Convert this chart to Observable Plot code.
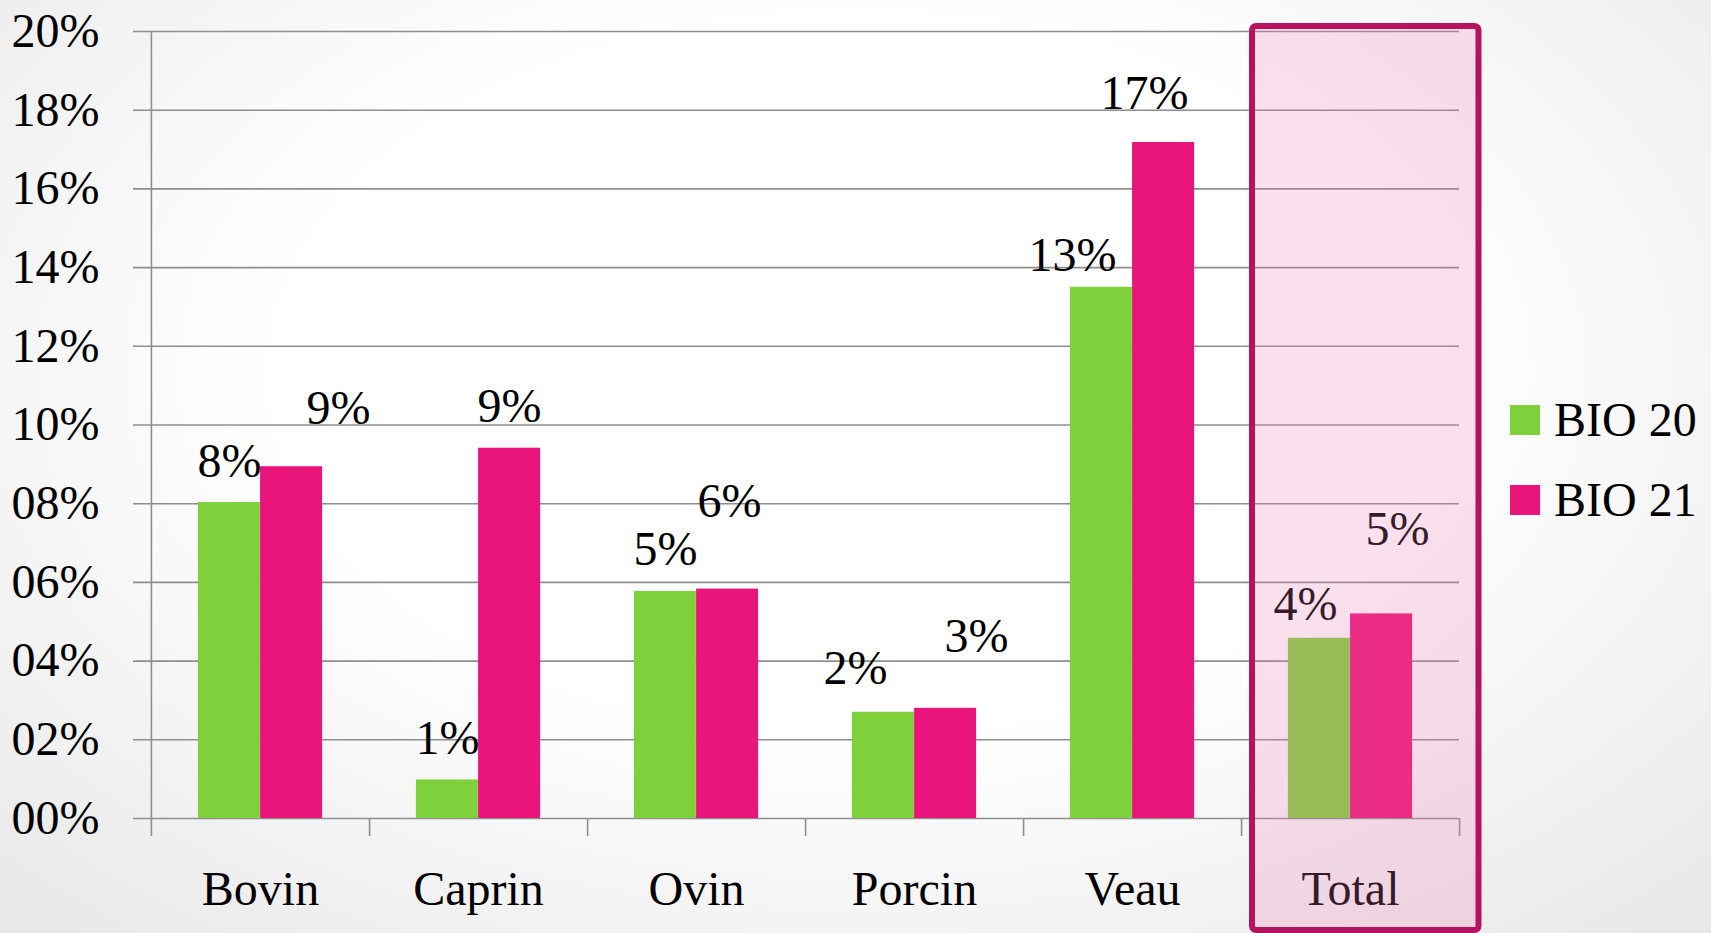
<!DOCTYPE html>
<html>
<head>
<meta charset="utf-8">
<script src="https://cdn.jsdelivr.net/npm/d3@7"></script>
<script src="https://cdn.jsdelivr.net/npm/@observablehq/plot@0.6"></script>
<style>
  html, body { margin: 0; padding: 0; width: 1711px; height: 933px; overflow: hidden; }
  body {
    background: radial-gradient(ellipse 75% 85% at 50% 40%, #ffffff 45%, #e6e6e6 100%);
    font-family: "Liberation Serif", "Times New Roman", Times, "DejaVu Serif", serif;
    position: relative;
  }
  svg text { font-family: "Liberation Serif", "Times New Roman", Times, "DejaVu Serif", serif !important; }
  #chart { position: absolute; left: 0; top: 0; }
  .legend-item { position: absolute; display: flex; align-items: center; font-size: 48px; line-height: 48px; color: #000; }
  .swatch { width: 30px; height: 30px; margin-right: 14px; }
</style>
</head>
<body>
<div id="chart"></div>
<div id="legend"></div>
<script>
// ---- data ----
const categories = ["Bovin", "Caprin", "Ovin", "Porcin", "Veau", "Total"];
const seriesNames = ["BIO 20", "BIO 21"];
const bio20 = [8.03, 0.98, 5.77, 2.7, 13.5, 4.58];
const bio21 = [8.94, 9.41, 5.83, 2.8, 17.18, 5.2];
const labels20 = ["8%", "1%", "5%", "2%", "13%", "4%"];
const labels21 = ["9%", "9%", "6%", "3%", "17%", "5%"];
const yTicks = [0, 2, 4, 6, 8, 10, 12, 14, 16, 18, 20];
const highlight = ["Total"];

// ---- layout / style (not data) ----
const colors = ["#7fd13b", "#ea157a"];
// manual nudges of the value labels, as placed in the original (px)
const nudge20 = [[0, 0], [0, 0], [0, 0], [-28, -2], [-29, 10], [-14, 8]];
const nudge21 = [[47, -17], [0, 0], [2, -46], [31, -30], [-19, -7], [16, -43]];

const W = 1711, H = 933;
const mL = 150, mR = 252, mT = 31, mB = 115;
const bw = (W - mL - mR) / categories.length;
const barW = bw * 0.285;
const side = bw / 2 - barW;
const gray = "#8e8e8e";
const font = "Liberation Serif";
const baseGap = 26;

const rows20 = categories.map((c, i) => ({category: c, value: bio20[i], label: labels20[i]}));
const rows21 = categories.map((c, i) => ({category: c, value: bio21[i], label: labels21[i]}));

function labelMarks(rows, nudges, side) {
  return rows.map((r, i) => Plot.text([r], {
    x: "category", y: "value", text: "label",
    dx: side * barW / 2 + nudges[i][0],
    dy: -baseGap + nudges[i][1],
    lineAnchor: "bottom", fontSize: 48, fill: "#000", fontFamily: font
  }));
}

const chart = Plot.plot({
  width: W,
  height: H,
  marginLeft: mL,
  marginRight: mR,
  marginTop: mT,
  marginBottom: mB,
  style: {background: "transparent", fontFamily: font, color: "#000"},
  x: {domain: categories, padding: 0, label: null},
  y: {domain: [0, 20], label: null},
  marks: [
    Plot.ruleY(yTicks, {stroke: gray, strokeWidth: 1.6, insetLeft: -17}),
    Plot.ruleX([categories[0]], {x: d => d, y1: 20, y2: 0, dx: -bw / 2, stroke: gray, strokeWidth: 1.6, insetBottom: -18}),
    Plot.ruleX(categories, {x: d => d, y1: 0, y2: 0, dx: bw / 2, stroke: gray, strokeWidth: 1.6, insetBottom: -18}),
    Plot.barY(rows20, {x: "category", y: "value", fill: colors[0], insetLeft: side, insetRight: bw / 2}),
    Plot.barY(rows21, {x: "category", y: "value", fill: colors[1], insetLeft: bw / 2, insetRight: side}),
    ...labelMarks(rows20, nudge20, -1),
    ...labelMarks(rows21, nudge21, 1),
    Plot.axisY({ticks: yTicks, tickSize: 0, tickPadding: 51, fontSize: 48, fontFamily: font, tickFormat: d => String(d).padStart(2, "0") + "%", label: null}),
    Plot.axisX({tickSize: 0, tickPadding: 52, fontSize: 48, fontFamily: font, label: null}),
    Plot.barY(highlight, {x: d => d, y1: 0, y2: 20, fill: "rgb(237,123,180)", fillOpacity: 0.227, stroke: "#b5135f", strokeWidth: 6, rx: 4, insetLeft: 11, insetRight: -19.5, insetTop: -5, insetBottom: -112})
  ]
});
document.getElementById("chart").appendChild(chart);

// ---- legend ----
const legend = document.getElementById("legend");
seriesNames.forEach((name, i) => {
  const item = document.createElement("div");
  item.className = "legend-item";
  item.style.left = "1510px";
  item.style.top = (396 + i * 80) + "px";
  const sw = document.createElement("div");
  sw.className = "swatch";
  sw.style.background = colors[i];
  const tx = document.createElement("span");
  tx.textContent = name;
  item.appendChild(sw);
  item.appendChild(tx);
  legend.appendChild(item);
});
</script>
</body>
</html>
